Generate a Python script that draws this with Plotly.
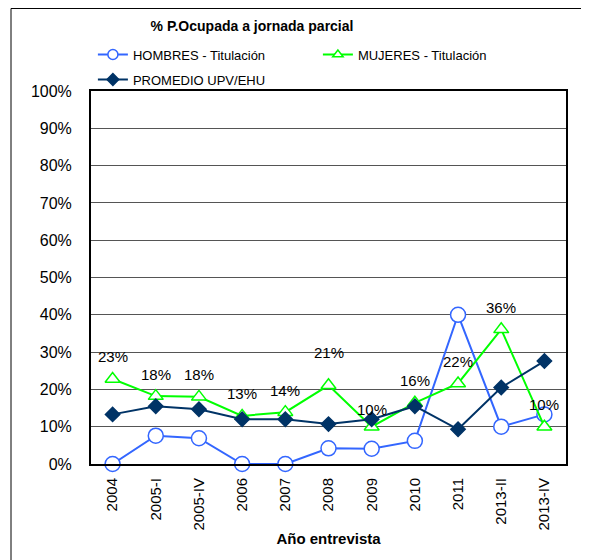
import plotly.graph_objects as go

# data (percent)
years = ["2004", "2005-I", "2005-IV", "2006", "2007", "2008", "2009", "2010", "2011", "2013-II", "2013-IV"]
hombres = [0, 7.6, 6.9, 0, 0, 4.2, 4.1, 6.2, 40.0, 10.0, 13.3]
mujeres = [22.8, 18.2, 18.0, 12.9, 13.9, 21.1, 10.0, 16.4, 21.6, 36.1, 10.0]
promedio = [13.3, 15.5, 14.7, 12.0, 12.0, 10.7, 12.0, 15.5, 9.3, 20.5, 27.6]
y_ticks = list(range(0, 101, 10))

FONT = "Liberation Sans, Arial, sans-serif"

# category index for each survey year (labels come from years)
xi = list(range(len(years)))

series = [
    ("HOMBRES - Titulación", hombres, "#3366FF", "circle", 15, 10, "white", "legend"),
    ("MUJERES - Titulación", mujeres, "#00FF00", "triangle-up", 13, 9, "white", "legend"),
    ("PROMEDIO UPV/EHU", promedio, "#003366", "diamond", 11, 9, "#003366", "legend2"),
]

fig = go.Figure()
for name, vals, col, sym, size, lsize, fill, leg in series:
    fig.add_trace(go.Scatter(
        x=xi, y=vals, name=name, mode="lines+markers", showlegend=False,
        line=dict(color=col, width=2),
        marker=dict(symbol=sym, size=size, color=fill, line=dict(color=col, width=1.5)),
        cliponaxis=False))
    # legend-only entry with smaller marker, like the original
    fig.add_trace(go.Scatter(
        x=[None], y=[None], name=name, mode="lines+markers", legend=leg,
        line=dict(color=col, width=2),
        marker=dict(symbol=sym, size=lsize, color=fill, line=dict(color=col, width=1.5))))

# data labels on the women's series
label_shift = {"2008": 33, "2009": 17}
for i, (yr, v) in enumerate(zip(years, mujeres)):
    fig.add_annotation(x=i, y=v, xref="x", yref="y", text=f"{round(v)}%", showarrow=False,
                       yshift=label_shift.get(yr, 22), font=dict(size=15, color="black", family=FONT))

# outer chart frame
fig.add_shape(type="rect", xref="paper", yref="paper", x0=-0.1684, x1=1.1, y0=-0.35, y1=1.2212,
              line=dict(color="black", width=1), layer="below")

# page body adds an 8px offset, so the figure is 8px smaller than the window
fig.update_layout(
    width=581, height=552,
    margin=dict(l=83, r=23, t=83, b=96, autoexpand=False),
    paper_bgcolor="white", plot_bgcolor="white",
    font=dict(family=FONT, color="black"),
    title=dict(text="<b>% P.Ocupada a jornada parcial</b>", xref="paper", x=0.339, xanchor="center",
               yref="container", y=1 - 18 / 552, yanchor="middle", font=dict(size=14)),
    legend=dict(orientation="h", x=0.004, xanchor="left", yref="paper", y=1.138, yanchor="top",
                entrywidth=180, font=dict(size=13), traceorder="normal", bgcolor="rgba(0,0,0,0)"),
    legend2=dict(orientation="h", x=0.004, xanchor="left", yref="paper", y=1.071, yanchor="top",
                 font=dict(size=13), bgcolor="rgba(0,0,0,0)"),
    xaxis=dict(range=[-0.5, len(years) - 0.5], tickvals=xi, ticktext=years,
               tickangle=-90, tickfont=dict(size=15), showgrid=False, showline=True,
               linecolor="black", linewidth=2, mirror=True, ticks="outside", ticklen=6,
               tickcolor="rgba(0,0,0,0)", zeroline=False,
               title=dict(text="<b>Año entrevista</b>", font=dict(size=15), standoff=4)),
    yaxis=dict(range=[0, 100], tickvals=y_ticks, ticktext=[f"{t}%" for t in y_ticks],
               tickfont=dict(size=16), showgrid=True, gridcolor="#555555", gridwidth=1, showline=True,
               linecolor="black", linewidth=2, mirror=True, ticks="outside", ticklen=14,
               tickcolor="rgba(0,0,0,0)", zeroline=False),
)

fig.write_html("out.html")
